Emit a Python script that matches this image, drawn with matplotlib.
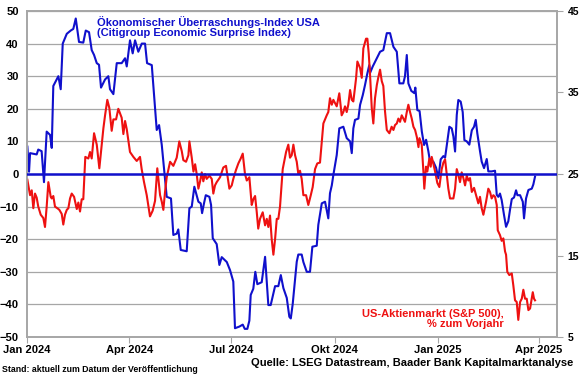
import numpy as np
import pandas as pd
import matplotlib
matplotlib.use('Agg')
import matplotlib.pyplot as plt

plt.rcParams['font.family'] = ['Liberation Sans', 'DejaVu Sans']
plt.rcParams['font.weight'] = 'bold'

# Citigroup Economic Surprise Index USA (left axis), days since 1 Jan 2024
blue_day = [0.3, 1.8, 2.7, 8.6, 10, 13, 15.1, 17.5, 20.5, 22, 23.4, 27.9, 30, 31.8, 35.4, 38.9, 41.2, 43.4,
            46.3, 50.1, 52.3, 55.2, 57.6, 59.7, 62.1, 64.1, 65.9, 69.5, 72.4, 73.9, 76.9, 79.9, 84.3, 87.3,
            88.8, 91.7, 94.1, 96.2, 99.1, 102.2, 105.1, 106.9, 111.1, 114, 115.5, 117.6, 120, 122, 124.4,
            128.2, 130.3, 133.3, 134.7, 136.9, 142.2, 144.6, 146.7, 149, 152.6, 154.7, 155.9, 157.6, 159.2,
            162.4, 163.9, 165.4, 168.9, 171.3, 173.4, 177.9, 180.8, 183.7, 185.2, 189.1, 192.1, 193.9, 196.2,
            198, 199.2, 201.5, 203.3, 205.1, 209, 212, 214.9, 217, 220.9, 223.8, 226, 228.3, 231.3, 233.6,
            234.9, 236.6, 240.2, 241.6, 244.6, 246.1, 249.1, 252, 254.1, 258, 259.4, 262.5, 265.4, 268.3,
            269.8, 271.4, 272.8, 275.8, 278.1, 281.7, 284.7, 287.7, 289.2, 290.6, 292.1, 295.1, 296.6, 299,
            301, 303.1, 304.8, 305.5, 307.9, 311.5, 314.4, 317.3, 320.4, 323.3, 326.3, 329.3, 331.6, 335.1,
            336.6, 338.2, 339.6, 342.2, 344.9, 345.8, 347.6, 349.6, 351.6, 353.6, 355.4, 357.4, 358.9, 361.8,
            364.3, 366.3, 368.4, 370.8, 372.3, 374.3, 376.1, 378.2, 379.7, 381.2, 382.7, 384.1, 386.2, 388,
            389.5, 391.6, 393.9, 396.1, 398.1, 399.6, 401, 403.4, 404.9, 407, 409.4, 410.8, 413.8, 416.8,
            418.3, 419.7, 421.2, 422.7, 424.8, 426.6, 428.6, 430.2, 431.7, 433.7, 435.5, 436.7, 439.1, 441.5,
            442.6, 444.4, 446.5, 449.5, 450.9, 452.4]
blue_val = [8.4, 0.7, 6.4, 6, 7.5, 7, -2.5, 13, 12, 8, 27, 30, 26, 40, 43, 44, 44.5, 47.7,
            40.5, 40.3, 44, 43.5, 38, 36.5, 34, 33.5, 26.5, 29, 30, 26, 24.5, 34, 34, 35.5,
            33, 41, 37, 41, 37.5, 40, 40, 34, 33.4, 20.4, 13.5, 15, 8.9, 1.8, -7,
            -7.5, -18.7, -18.3, -17, -23.3, -23.7, -10.5, -10, -3.9, -8.5, -9, -12, -9, -6.5,
            -7, -9.5, -19.7, -21.5, -27.9, -25.5, -27, -29.5, -33, -47.3, -46.8, -46.2, -47.5, -47.5,
            -45, -37.1, -35.2, -30, -33.8, -33.2, -25.4, -40.2, -40.2, -34.4, -34.4, -31, -35, -38, -43.8,
            -44.3, -39.9, -26.9, -24.7, -24.7, -27, -30, -30, -22.3, -22, -15.6, -9, -8.5, -13.6,
            -5.9, -3.5, -0.3, 5.8, 14, 14.5, 11, 10, 6.4, 14, 16.6, 17, 21.2, 24.2,
            27.3, 30.9, 33.4, 31, 33, 35.5, 37.5, 38, 43.2, 43.2, 39, 37.5, 27.8, 27.8,
            30, 36.5, 27.8, 25.5, 24.8, 26.5, 19.6, 19.3, 13, 8.9, 10.5, 7, 3.8, 3.8,
            1.9, -1.3, 4.5, 5.5, 5, 9.9, 14.5, 14, 11.5, 6.9, 18.1, 22.7, 22.2, 19,
            10.4, 10, 9, 13.4, 14.5, 16.6, 12.5, 7, 3.8, 1.8, 4.6, 0.8, 0.8, 1,
            -6.4, -7, -6, -8, -12.6, -16.2, -14.5, -10.8, -7.7, -7.2, -5, -6.5, -6.5, -8.5,
            -13.6, -7.5, -4.9, -4.5, -3.2, -0.8]

# S&P 500, % vs previous year (right axis)
red_day = [0.3, 2.7, 4.2, 5.6, 7.1, 8.6, 10, 12.2, 14.5, 16, 17.5, 19, 21.1, 22, 23.4, 24.9, 27, 28.8,
           30.9, 32.3, 33.8, 35.4, 36.8, 38.3, 39.8, 41.9, 44.3, 45.7, 47.2, 48.7, 50.1, 51.9, 54.6, 56.1,
           57.6, 59.7, 62.1, 64.4, 66.5, 68, 69.5, 71.5, 73.3, 75.4, 76.9, 79.3, 81.3, 84.3, 85.8, 87.3,
           88.8, 91.7, 94.7, 97.7, 100.6, 102.1, 104.2, 106.6, 109.5, 111.9, 114, 116, 118.5, 120, 121.4,
           122.9, 124.4, 127.4, 130.3, 133.3, 135.6, 137.8, 139.2, 141.6, 143.7, 144.6, 146.7, 148.2, 149.7,
           151.1, 152.6, 154.1, 155.6, 157, 158.5, 160, 162.4, 164.5, 165.9, 167.4, 168.9, 171.9, 174.8,
           177.2, 178.4, 180.2, 182.3, 183.7, 186.1, 188.2, 190.3, 192.1, 194.1, 195.7, 198, 200.1, 201.5,
           203.1, 204.6, 205.9, 207.5, 209.9, 212, 213.5, 214.9, 216.4, 217.9, 219.4, 220.9, 222.4, 223.8,
           225.3, 227.7, 230.7, 232.7, 234.2, 235.7, 237.2, 238.7, 240.2, 241.6, 243.1, 244.6, 246.1, 248.5,
           250.5, 252.7, 254.4, 256.5, 258.5, 260.9, 262.5, 263.9, 266.9, 268.3, 269.8, 271.4, 272.8, 274.3,
           275.8, 278.1, 280.2, 281.7, 283.2, 284.7, 286.1, 287.7, 289.2, 290.6, 293, 294.2, 296.6, 298.1,
           299.5, 301.9, 303.1, 304.3, 305.5, 307, 308.4, 309.9, 311.5, 312.9, 314.4, 315.9, 317.3, 318.8,
           320.4, 322.7, 324.7, 326.3, 327.7, 329.3, 330.7, 332.2, 333.7, 335.1, 336.6, 338.2, 339.6, 341.1,
           342.6, 344.1, 345.6, 347.2, 348.6, 349.5, 351.5, 353, 353.8, 355.3, 356.5, 358.3, 359.5, 360.4,
           361.8, 363.4, 365.4, 367.2, 369.3, 370.8, 372.3, 373.8, 375.2, 376.7, 379.7, 381.2, 382.7, 384.1,
           385.6, 387.1, 388.6, 390.1, 391.6, 393, 394.5, 396.1, 398.1, 399.9, 401.9, 403.4, 404.9, 406.4,
           408.8, 410.8, 412.3, 413.8, 415.3, 416.8, 418.3, 419.2, 421.2, 422.7, 424.2, 425.7, 426.6, 427.7,
           429.5, 431.7, 433.1, 434.6, 436.1, 437.5, 439.1, 440.6, 442, 443.5, 445, 446.5, 448, 449.5,
           450.4, 451.5, 452.4]
red_val = [24.3, 22.4, 23, 20.8, 22.6, 22.1, 21, 20, 19.6, 18.5, 21, 24, 22.2, 22, 22.3, 21, 20.8, 20.6,
           20.1, 18.8, 20, 20.6, 20.8, 22, 22.6, 22.2, 20.7, 21.5, 20.4, 21.9, 21.9, 27.1, 26.9, 27.7,
           26.9, 30, 28.6, 25.7, 28.6, 30.6, 32.2, 34.1, 33.1, 30.3, 31.7, 31.7, 33, 31.9, 29.9, 31.5,
           30.5, 27.7, 27.1, 26.6, 27.1, 25.6, 24, 22.4, 19.8, 20.5, 21.7, 25.7, 22.4, 21.6, 20.6,
           22.8, 24.6, 26.5, 26, 27, 29, 27.8, 26.7, 26.5, 27.3, 29, 27, 25.3, 26.2,
           25, 23.2, 24.1, 25.2, 24.1, 25, 24.4, 24.8, 24.4, 22.6, 23.6, 24, 24.6, 25.8,
           26, 24.9, 23.2, 23.6, 24.4, 25.5, 26.3, 26.9, 27.5, 25, 24.2, 24.6, 21.2, 21.9,
           22.3, 20.3, 18.3, 19.5, 20.3, 18.7, 19.5, 18.5, 19.9, 17, 15.1, 17, 19.5, 19.5,
           21, 25.6, 27.7, 28.6, 27, 27.3, 28.6, 27.3, 26.5, 25, 25.4, 24.4, 22.4, 22.4,
           21.2, 22.4, 23.4, 25.6, 26.3, 26.4, 29, 31.2, 32.2, 32.6, 34.3, 33.5, 34.1, 33.7,
           33.3, 34.9, 32.2, 32.6, 33.3, 32.6, 33.5, 35.3, 34.1, 33.9, 36.7, 38.8, 38, 36.8,
           40.4, 41.6, 41.6, 39.8, 37.1, 33.1, 31.2, 34.3, 35.9, 36.9, 37.8, 36.4, 35.8, 32.7,
           30.4, 30, 30.8, 30.4, 31, 31.2, 31.8, 31.4, 32.2, 31.8, 31.4, 32.6, 33.5, 32.6,
           31.8, 30.8, 30.4, 29.5, 28.3, 29.4, 28.6, 25.3, 23.2, 25.9, 25.3, 26.9, 25.9, 27.1,
           26.3, 25.3, 23.9, 23.4, 25.6, 26.4, 26.8, 24.9, 23.2, 22, 22, 23.2, 25.6, 24.9,
           24, 25.2, 24.5, 23.6, 24.8, 24.2, 24.5, 22.8, 23.3, 22.4, 21.4, 22.2, 20.8, 20,
           21.6, 23.2, 22.8, 22, 22.4, 22.2, 21.2, 18.1, 17.5, 16.8, 17.1, 15.5, 15.1, 13,
           12.6, 12.8, 11.3, 9.5, 9.3, 7.1, 9.3, 9.7, 10.8, 9.7, 9.7, 8.3, 8.5, 9.7,
           10.5, 9.7, 9.5]

start = pd.Timestamp('2024-01-01')
blue_dates = start + pd.to_timedelta(blue_day, unit='D')
red_dates = start + pd.to_timedelta(red_day, unit='D')

tick_dates = pd.to_datetime(['2024-01-01', '2024-04-01', '2024-07-01', '2024-10-01', '2025-01-01', '2025-04-01'])
tick_labels = ['Jan 2024', 'Apr 2024', 'Jul 2024', 'Okt 2024', 'Jan 2025', 'Apr 2025']

blue = '#1010cc'
red = '#ee1111'
grey = '#a6a6a6'

fig = plt.figure(figsize=(5.8, 3.75), dpi=100)
ax = fig.add_axes([0.0466, 0.1013, 0.9138, 0.8694])
ax2 = ax.twinx()

ax.set_ylim(-50, 50)
ax.set_yticks(np.arange(-50, 51, 10))
ax2.set_ylim(5, 45)
ax2.set_yticks([5, 15, 25, 35, 45])
ax.set_xlim(pd.Timestamp('2024-01-01'), pd.Timestamp('2025-04-17'))
ax.set_xticks(tick_dates)
ax.set_xticklabels(tick_labels)

ax.grid(axis='y', color=grey, lw=0.9)
ax.set_axisbelow(True)

ax.plot(blue_dates, blue_val, color=blue, lw=1.5)
ax2.plot(red_dates, red_val, color=red, lw=1.5)
ax2.axhline(25, color=blue, lw=1.8, zorder=5)

for a in (ax, ax2):
    for s in a.spines.values():
        s.set_color(grey)
        s.set_linewidth(1.2)
ax.tick_params(axis='y', length=0, labelsize=8, pad=6)
ax.tick_params(axis='x', length=4, color=grey, labelsize=8, pad=2)
ax2.tick_params(axis='y', length=4, color=grey, labelsize=7.5, pad=3.5)

ax.text(0.132, 0.985, 'Ökonomischer Überraschungs-Index USA\n(Citigroup Economic Surprise Index)',
        transform=ax.transAxes, color=blue, fontsize=8, fontweight='bold', va='top', ha='left',
        linespacing=1.05)
ax.text(0.900, 0.055, 'US-Aktienmarkt (S&P 500),\n% zum Vorjahr', transform=ax.transAxes,
        color=red, fontsize=8, fontweight='bold', va='center', ha='right', linespacing=1.05)

fig.text(0.003, 0.016, 'Stand: aktuell zum Datum der Veröffentlichung', fontsize=6.3,
         fontweight='bold', ha='left', va='center')
fig.text(0.989, 0.032, 'Quelle: LSEG Datastream, Baader Bank Kapitalmarktanalyse', fontsize=8,
         fontweight='bold', ha='right', va='center')

fig.savefig('out.png', dpi=100)
